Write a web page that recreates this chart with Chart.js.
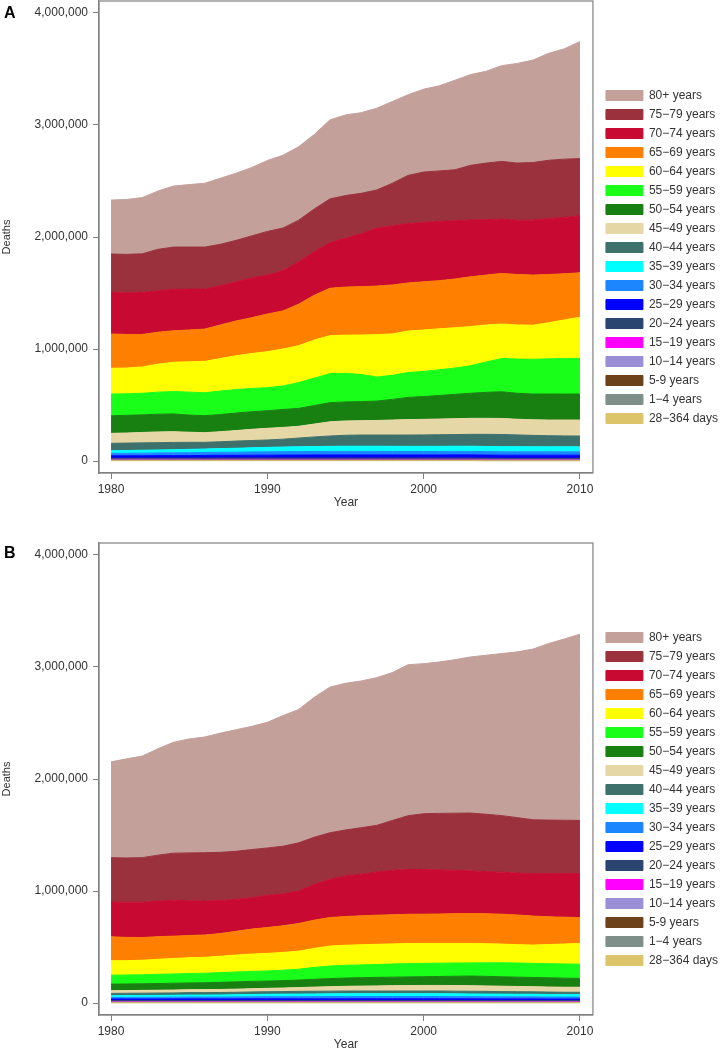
<!DOCTYPE html>
<html>
<head>
<meta charset="utf-8">
<script src="https://cdn.jsdelivr.net/npm/chart.js@4.4.1/dist/chart.umd.min.js"></script>
<style>
  html, body { margin: 0; padding: 0; background: #fff; }
  #page { position: relative; width: 722px; height: 1049px; overflow: hidden; }
  canvas { position: absolute; left: 0; }
  #chartA { top: 0; }
  #chartB { top: 542px; }
  .panel { position: absolute; left: 4px; font: bold 16px "Liberation Sans", Arial, sans-serif; line-height: 16px; color: #000; }
</style>
</head>
<body>
<div id="page">
  <canvas id="chartA" width="722" height="513"></canvas>
  <canvas id="chartB" width="722" height="513"></canvas>
  <div class="panel" style="top:5px">A</div>
  <div class="panel" style="top:545px">B</div>
</div>
<script>
// deaths in thousands, one value per year
const years = [1980,1981,1982,1983,1984,1985,1986,1987,1988,1989,1990,1991,1992,1993,1994,1995,
               1996,1997,1998,1999,2000,2001,2002,2003,2004,2005,2006,2007,2008,2009,2010];

// bottom of the stack first
const ageGroups = ["28\u2212364 days","1\u22124 years","5-9 years","10\u221214 years","15\u221219 years",
  "20\u221224 years","25\u221229 years","30\u221234 years","35\u221239 years","40\u221244 years","45\u221249 years",
  "50\u221254 years","55\u221259 years","60\u221264 years","65\u221269 years","70\u221274 years","75\u221279 years","80+ years"];

const colors = ["#dcc46a","#7d8f88","#6b4219","#9a8fd6","#ff00ff","#2b4571","#0000ff","#1c86ff","#00ffff",
  "#3e716c","#e6d7a6","#178010","#19ff19","#ffff00","#ff7f00","#c80a32","#9a313c","#c4a09b"];

// panel A
const a_28d = [3,3,3,3,3,3,3,3,3,3,3,3,3,3,3,3,3,3,3,3,3,3,3,3,2,2,2,2,2,2,2];
const a_1   = [2,2,2,2,2,2,2,2,2,2,2,2,2,2,2,2,2,2,2,2,2,2,2,2,2,2,2,2,2,2,2];
const a_5   = [2,2,2,2,2,2,2,2,2,2,2,2,2,2,2,2,2,2,2,2,2,2,2,2,2,2,2,2,2,2,2];
const a_10  = [3,3,3,3,3,3,3,3,3,3,3,3,3,3,3,3,3,3,3,3,3,3,3,3,3,3,3,3,3,3,3];
const a_15  = [5,5,5,5,5,5,5,6,6,6,6,6,6,6,6,6,6,6,6,6,6,6,6,6,5,5,5,5,5,5,5];
const a_20  = [10,10,10,10,10,10,11,11,11,11,11,11,11,11,11,11,11,11,11,11,11,11,11,11,11,10,10,10,10,10,10];
const a_25  = [22,22,22,23,23,23,24,24,24,25,25,26,26,27,27,27,27,27,27,27,27,27,28,28,28,28,28,28,28,28,28];
const a_30  = [21,22,23,24,25,26,26,27,28,29,30,30,31,31,32,32,32,32,31,31,31,31,31,31,31,30,30,30,30,30,30];
const a_35  = [24,25,26,27,28,30,31,33,35,37,40,42,43,44,45,46,46,46,46,46,46,46,46,46,46,46,46,45,45,45,45];
const a_40  = [66,66,66,65,65,63,60,61,64,65,66,70,78,86,92,98,100,100,101,101,102,104,104,106,108,109,105,102,99,97,96];
const a_45  = [89,90,93,96,96,90,86,90,94,100,104,105,105,115,127,128,128,130,134,138,139,140,142,143,143,143,140,139,140,142,143];
const a_50  = [157,158,157,158,158,153,152,153,156,157,157,160,160,165,171,170,170,173,184,198,204,210,217,224,232,238,232,230,232,232,232];
const a_55  = [194,192,193,197,200,205,205,210,210,208,206,210,230,245,259,255,242,215,215,222,224,230,235,245,272,297,305,310,314,317,319];
const a_60  = [230,230,235,250,262,271,280,290,302,312,321,330,330,340,339,341,353,378,370,370,370,365,360,350,330,308,305,304,323,345,366];
const a_65  = [306,300,290,285,281,284,288,300,310,320,336,340,370,400,423,429,431,434,437,430,430,430,435,445,445,452,450,448,430,412,397];
const a_70  = [372,370,375,370,370,365,357,350,350,355,348,360,380,390,408,437,474,518,528,530,530,530,520,507,495,485,485,490,500,503,510];
const a_75  = [342,345,345,370,377,375,375,370,370,375,390,380,370,380,390,380,360,340,380,430,450,450,455,488,505,515,510,515,520,520,510];
const a_80  = [482,490,502,520,545,558,570,590,600,610,633,650,656,665,705,720,720,730,730,720,740,760,800,810,820,855,890,915,955,985,1045];

// panel B
const b_28d = [2,2,2,2,2,2,2,2,2,2,2,2,2,2,2,2,2,2,2,2,2,2,2,2,2,2,2,2,2,2,2];
const b_1   = [2,2,2,2,2,2,2,2,2,2,2,2,2,2,2,2,2,2,2,2,2,2,2,2,2,2,2,2,2,2,2];
const b_5   = [2,2,2,2,2,2,2,2,2,2,2,2,2,2,2,2,2,2,2,2,2,2,2,2,2,2,2,2,2,2,2];
const b_10  = [3,3,3,3,3,3,3,3,3,3,3,3,3,3,3,3,3,3,3,3,3,3,3,3,3,3,3,3,3,3,3];
const b_15  = [4,4,4,4,4,4,4,4,4,4,4,4,4,4,4,4,4,4,4,4,4,4,4,4,4,4,4,4,4,4,4];
const b_20  = [8,8,8,8,8,8,8,8,8,8,8,8,8,8,8,8,8,8,8,8,8,8,8,8,8,8,8,8,8,8,8];
const b_25  = [15,15,15,15,16,16,16,16,16,17,17,17,17,17,17,17,17,17,17,17,17,17,17,17,16,16,16,16,15,15,15];
const b_30  = [14,14,15,15,15,16,16,16,17,17,18,18,19,19,20,20,20,20,20,20,20,20,19,19,19,18,18,18,17,17,17];
const b_35  = [15,16,16,17,17,18,18,19,20,21,22,23,23,24,24,25,25,25,25,25,25,25,25,24,24,24,23,23,23,22,22];
const b_40  = [21,21,21,21,21,22,22,22,22,23,23,23,24,24,24,24,24,24,24,24,24,24,24,24,24,23,23,22,22,21,21];
const b_45  = [24,24,25,25,26,26,27,27,28,29,30,32,34,37,40,42,44,46,48,49,50,50,50,50,49,48,47,46,45,45,45];
const b_50  = [59,59,59,60,61,60,61,64,65,65,65,66,67,70,72,74,75,76,76,77,78,80,83,86,85,84,83,82,82,81,79];
const b_55  = [80,80,80,82,83,84,85,87,88,89,90,93,97,106,112,114,114,115,117,119,119,119,118,117,121,125,126,126,126,127,127];
const b_60  = [128,128,130,134,138,141,142,146,151,155,157,159,161,169,178,179,180,180,180,179,178,176,175,174,170,167,164,163,171,178,185];
const b_65  = [214,208,203,202,199,199,199,202,212,223,231,237,247,253,255,256,258,260,260,261,261,263,265,267,268,267,265,259,248,239,231];
const b_70  = [311,314,315,318,321,310,303,295,285,280,288,286,290,320,342,363,372,386,397,400,399,393,388,381,376,375,374,379,385,389,392];
const b_75  = [396,395,398,410,420,427,432,430,430,430,422,425,430,420,415,410,415,416,445,480,498,505,510,516,512,505,495,481,478,477,475];
const b_80  = [855,885,907,950,990,1018,1033,1065,1085,1100,1122,1166,1190,1250,1300,1310,1310,1319,1320,1348,1340,1352,1370,1394,1420,1447,1480,1524,1577,1618,1663];

const xTicks = [1980, 1990, 2000, 2010];
const yTicks = [0, 1000, 2000, 3000, 4000];

const panelA = [a_28d,a_1,a_5,a_10,a_15,a_20,a_25,a_30,a_35,a_40,a_45,a_50,a_55,a_60,a_65,a_70,a_75,a_80];
const panelB = [b_28d,b_1,b_5,b_10,b_15,b_20,b_25,b_30,b_35,b_40,b_45,b_50,b_55,b_60,b_65,b_70,b_75,b_80];

Chart.defaults.font.family = '"Liberation Sans", Arial, sans-serif';
Chart.defaults.color = '#333';

const axisGray = '#808080';

// box round the plot area
const frame = {
    id: 'frame',
    afterDraw(chart) {
        const {ctx, chartArea: c} = chart;
        ctx.save();
        ctx.strokeStyle = axisGray;
        ctx.lineWidth = 1.2;
        ctx.strokeRect(c.left, c.top, c.right - c.left, c.bottom - c.top);
        ctx.restore();
    }
};

// small gap between plot and legend
const nudgeLegend = {
    id: 'nudgeLegend',
    afterLayout(chart) {
        chart.legend.left += 6;
        chart.legend.right += 6;
    }
};

function drawPanel(id, series) {
    new Chart(document.getElementById(id), {
        type: 'line',
        data: {
            datasets: series.map((vals, i) => ({
                label: ageGroups[i],
                data: vals.map((v, j) => ({x: years[j], y: v})),
                backgroundColor: colors[i],
                borderColor: colors[i],
                borderWidth: 1,
                pointRadius: 0,
                fill: i === 0 ? 'origin' : '-1'
            }))
        },
        options: {
            responsive: false,
            animation: false,
            layout: { padding: { top: 1 } },
            plugins: {
                legend: {
                    position: 'right',
                    reverse: true,
                    labels: { boxWidth: 37, boxHeight: 10, padding: 7, font: { size: 12 } }
                },
                tooltip: { enabled: false }
            },
            scales: {
                x: {
                    type: 'linear',
                    min: 1979.23,
                    max: 2010.83,
                    afterBuildTicks: s => { s.ticks = xTicks.map(v => ({value: v})); },
                    afterFit: s => { s.height = 40; s.paddingLeft = 0; s.paddingRight = 0; },
                    ticks: { callback: v => String(v), padding: 3, maxRotation: 0, font: { size: 12 } },
                    grid: { drawOnChartArea: false, tickLength: 6, color: axisGray },
                    border: { color: axisGray, width: 1.2 },
                    title: { display: true, text: 'Year', font: { size: 12 }, padding: { top: 0, bottom: 3 } }
                },
                y: {
                    stacked: true,
                    min: -107,
                    max: 4107,
                    afterBuildTicks: s => { s.ticks = yTicks.map(v => ({value: v})); },
                    afterFit: s => { s.width = 99; s.paddingTop = 0; s.paddingBottom = 0; },
                    ticks: { callback: v => (v * 1000).toLocaleString('en-US'), padding: 5, font: { size: 12 } },
                    grid: { drawOnChartArea: false, tickLength: 6, color: axisGray },
                    border: { color: axisGray, width: 1.2 },
                    title: { display: true, text: 'Deaths', font: { size: 11 }, padding: 0 }
                }
            }
        },
        plugins: [frame, nudgeLegend]
    });
}

drawPanel('chartA', panelA);
drawPanel('chartB', panelB);
</script>
</body>
</html>
